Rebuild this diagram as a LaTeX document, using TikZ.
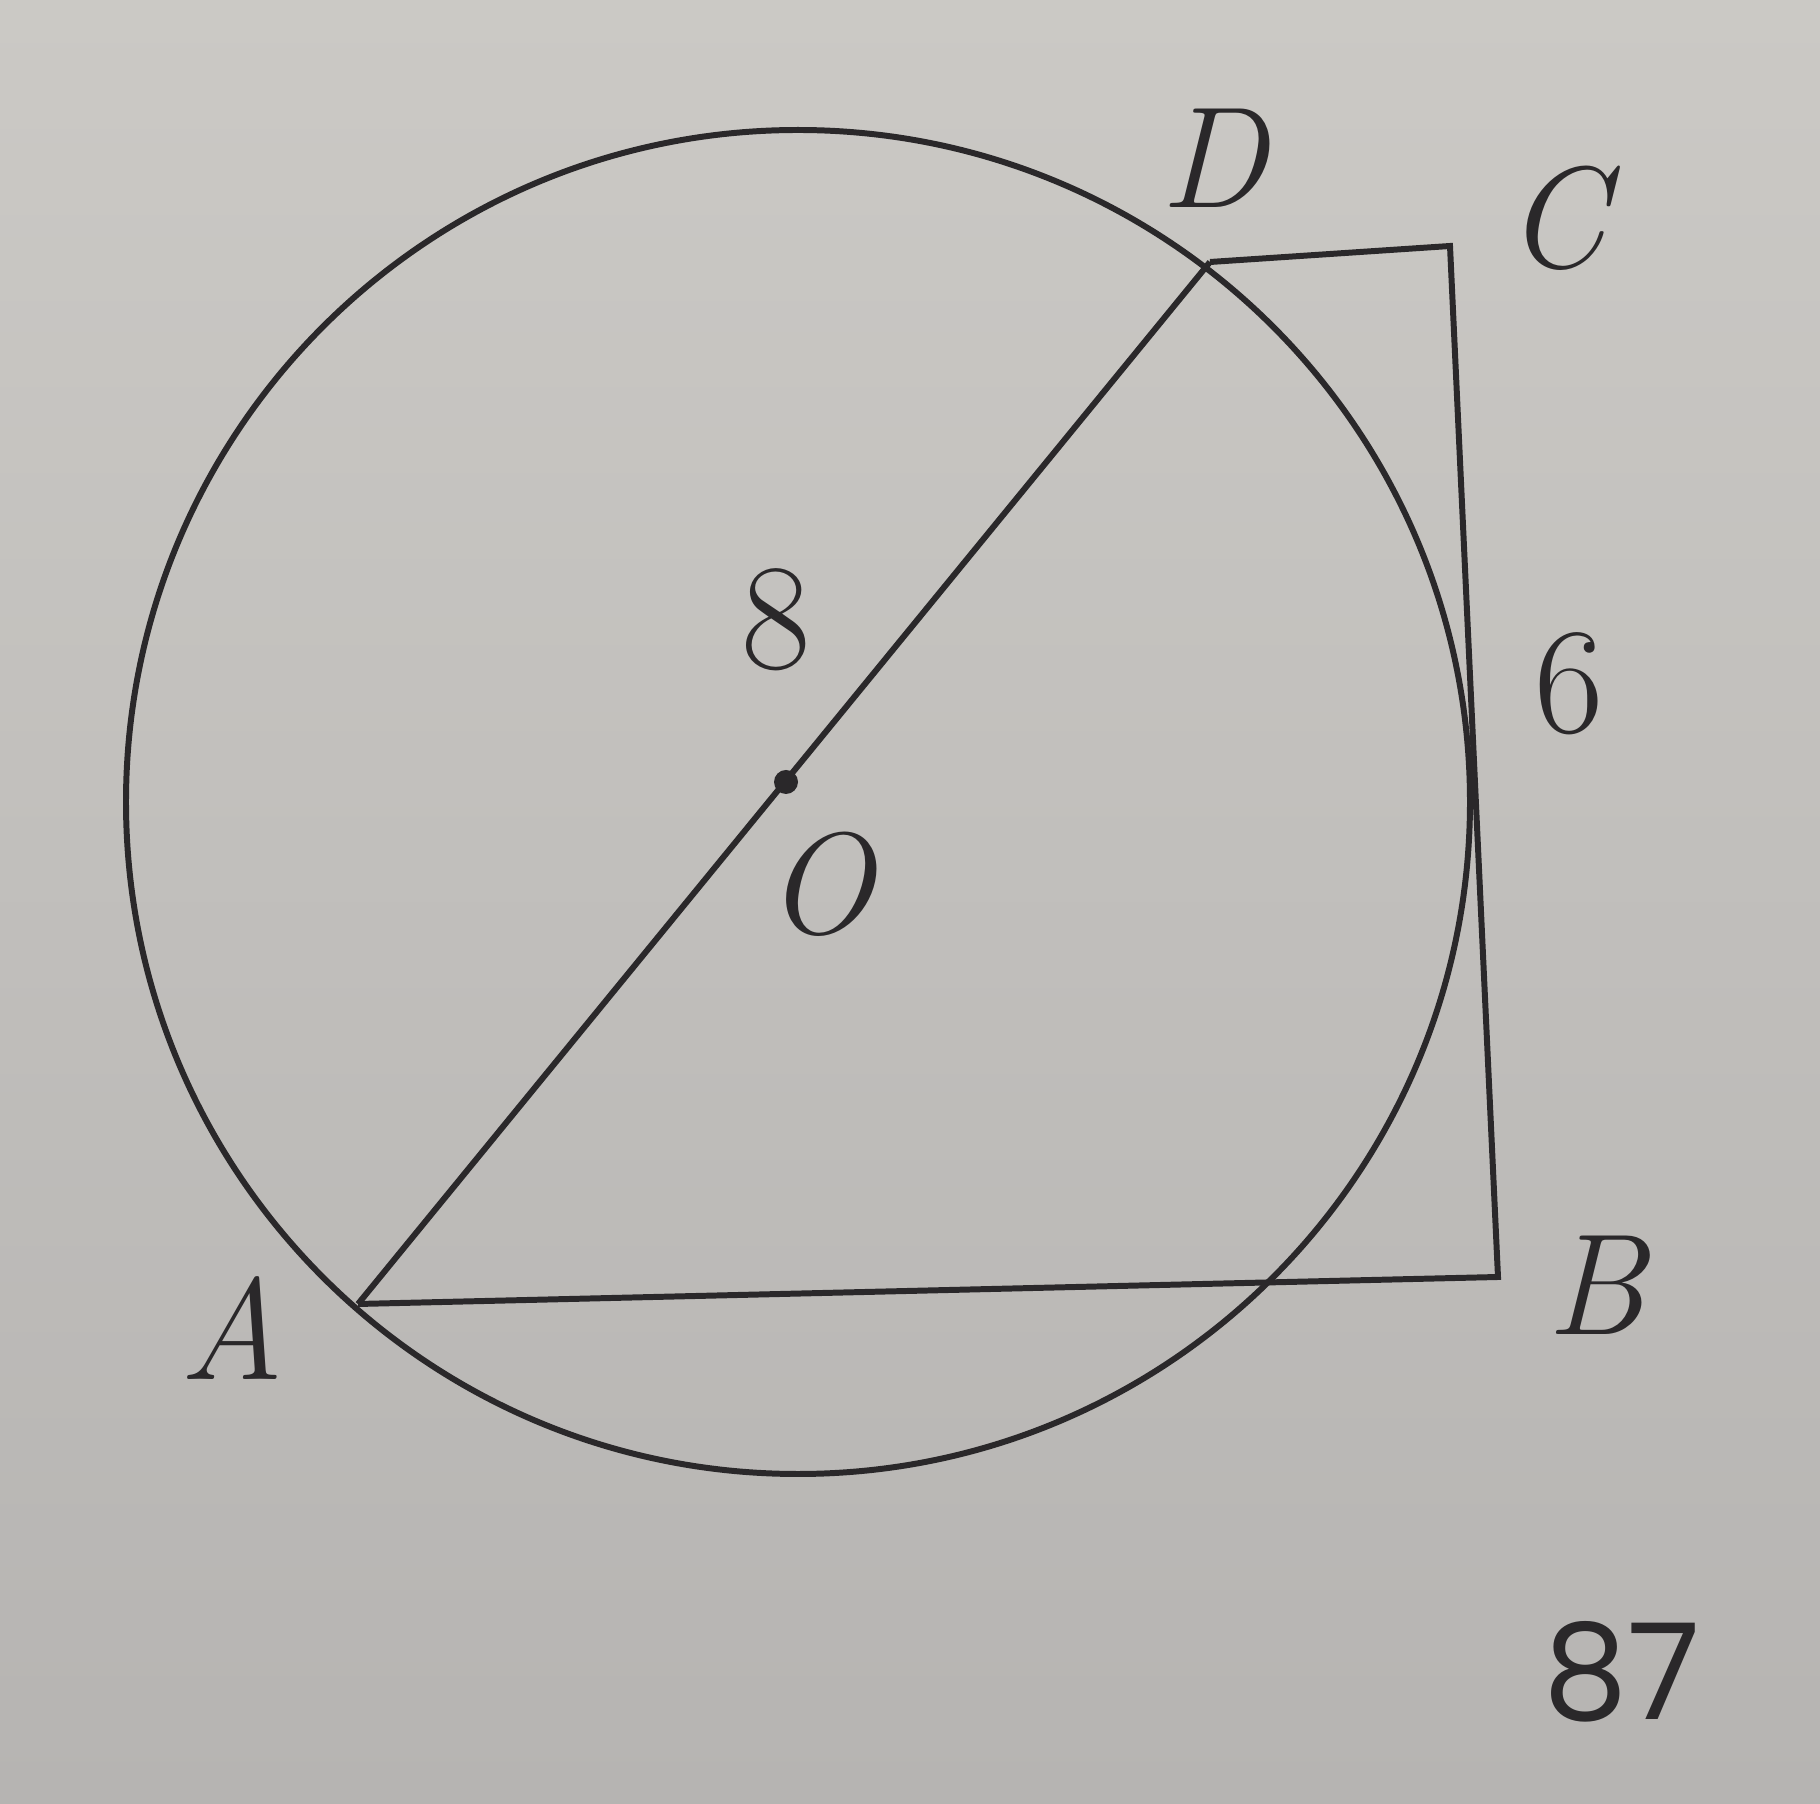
\documentclass[tikz,border=0pt]{standalone}
\usepackage{fontspec}
\newfontfamily\pagefont{Poppins}
\definecolor{paper}{RGB}{203,201,197}
\definecolor{paperdark}{RGB}{182,180,178}
\definecolor{ink}{RGB}{42,40,42}

\begin{document}
\begin{tikzpicture}[x=0.01cm,y=-0.01cm,line width=1.7pt,ink,
  lbl/.style={font=\fontsize{41}{41}\selectfont\itshape,text=ink},
  num/.style={font=\fontsize{43}{43}\selectfont,text=ink}]
  \shade[top color=paper,bottom color=paperdark,draw=none] (0,0) rectangle (1820,1804);
  \useasboundingbox (0,0) rectangle (1820,1804);
  \coordinate (ctr) at (798,802);
  \coordinate (A) at (358,1304);
  \coordinate (B) at (1498,1277);
  \coordinate (C) at (1450,246);
  \coordinate (D) at (1210,262);
  \coordinate (O) at (786,782);
  \draw (ctr) circle (672);
  \draw (A) -- (D);
  \draw[line join=miter] (D) -- (C) -- (B) -- (A);
  \fill (O) circle (12);
  % labels
  \node[lbl] (lA) at (232,1328) {A};
  \node[lbl] (lB) at (1596,1285) {B};
  \node[lbl] (lC) at (1556,218) {C};
  \node[lbl] (lD) at (1214,158) {D};
  \node[lbl] (lO) at (820,884) {O};
  \node[num] (l8) at (776,620) {8};
  \node[num] (l6) at (1569,684) {6};
  \node[font=\fontsize{38}{38}\selectfont\pagefont,text=ink] (page) at (1622,1672) {87};
\end{tikzpicture}
\end{document}
